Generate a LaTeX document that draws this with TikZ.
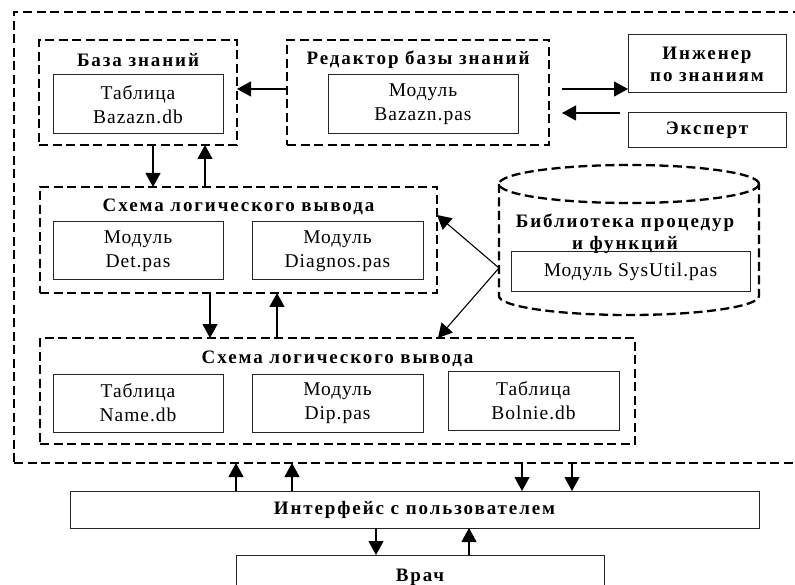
\documentclass[tikz,border=0pt]{standalone}
\usepackage{fontspec}
\setmainfont{Liberation Serif}
\newfontfamily\regf[LetterSpace=5]{Liberation Serif}
\newfontfamily\boldf[LetterSpace=10]{Liberation Serif}
\usetikzlibrary{arrows.meta}
\begin{document}
\begin{tikzpicture}[x=1pt,y=-1pt,
  every node/.style={inner sep=0pt,outer sep=0pt},
  sbox/.style={draw=black!85,line width=1pt,align=center,font=\regf\fontsize{19.5}{24}\selectfont},
  bbox/.style={draw=black!85,line width=1pt,align=center,font=\boldf\bfseries\fontsize{19}{22}\selectfont},
  dbox/.style={draw,line width=2.3pt,dash pattern=on 9pt off 4.5pt},
  dline/.style={line width=2.3pt,dash pattern=on 9pt off 4.5pt},
  ttl/.style={align=center,font=\boldf\bfseries\fontsize{19}{21.5}\selectfont},
  arr/.style={line width=1.1pt,-{Triangle[length=14pt,width=15pt]}}]
\useasboundingbox (0,0) rectangle (795,585);
% outer container
\node[dbox,minimum width=796pt,minimum height=451pt] (outer) at (412,237.5) {};
% knowledge base
\node[dbox,minimum width=198pt,minimum height=105pt] (kb) at (138,92.5) {};
\node[ttl] (kbt) at (138,60) {База знаний};
\node[sbox,minimum width=170pt,minimum height=59pt] (tab1) at (138,104.5) {Таблица\\Bazazn.db};
% editor
\node[dbox,minimum width=262pt,minimum height=105pt] (ed) at (418,92.5) {};
\node[ttl] (edt) at (418,60) {Редактор базы знаний};
\node[sbox,minimum width=190pt,minimum height=59pt] (mod1) at (423,104.5) {Модуль\\Bazazn.pas};
% engineer, expert
\node[bbox,minimum width=158pt,minimum height=58pt] (eng) at (707,64) {Инженер\\по знаниям};
\node[bbox,minimum width=158pt,minimum height=35pt] (exp) at (707,130.5) {Эксперт};
% inference scheme 1
\node[dbox,minimum width=397pt,minimum height=106pt] (s1) at (238.5,240) {};
\node[ttl] (s1t) at (238.5,207) {Схема логического вывода};
\node[sbox,minimum width=170pt,minimum height=58pt] (det) at (138,251) {Модуль\\Det.pas};
\node[sbox,minimum width=171pt,minimum height=58pt] (diag) at (337.5,251) {Модуль\\Diagnos.pas};
% library cylinder
\draw[dline] (629,184) ellipse [x radius=130pt,y radius=19pt];
\draw[dline] (499,184) -- (499,296) arc[start angle=180,end angle=360,x radius=130pt,y radius=19pt] -- (759,184);
\coordinate (cylL) at (499,268);
\node[ttl] (cylt) at (625,234) {Библиотека процедур\\и функций};
\node[sbox,minimum width=239pt,minimum height=40pt] (sysu) at (630.5,272) {Модуль SysUtil.pas};
% inference scheme 2
\node[dbox,minimum width=595pt,minimum height=106pt] (s2) at (337.5,391) {};
\node[ttl] (s2t) at (337.5,359) {Схема логического вывода};
\node[sbox,minimum width=170pt,minimum height=58pt] (name) at (138,403) {Таблица\\Name.db};
\node[sbox,minimum width=171pt,minimum height=58pt] (dip) at (337.5,403) {Модуль\\Dip.pas};
\node[sbox,minimum width=171pt,minimum height=59pt] (bol) at (533.5,400.5) {Таблица\\Bolnie.db};
% interface and doctor
\node[bbox,minimum width=689pt,minimum height=37pt] (iface) at (414.5,509.5) {Интерфейс с пользователем};
\node[bbox,minimum width=368pt,minimum height=45pt] (vrach) at (420,577.5) {Врач};
% connectors
\draw[arr] ([yshift=3.5pt]ed.west) -- ([yshift=3.5pt]kb.east);
\coordinate (c1) at (562,89);
\draw[arr] (c1) -- (c1 -| eng.west);
\coordinate (c2) at (620,113);
\coordinate (c3) at (562,113);
\draw[arr] (c2) -- (c3);
\draw[arr] ([xshift=15pt]kb.south) -- ([xshift=-85.5pt]s1.north);
\draw[arr] ([xshift=-33.5pt]s1.north) -- ([xshift=67pt]kb.south);
\draw[arr] (cylL) -- ([yshift=25pt]s1.east);
\draw[arr] (cylL) -- ([xshift=100.5pt]s2.north);
\draw[arr] ([xshift=-28.5pt]s1.south) -- ([xshift=-127.5pt]s2.north);
\draw[arr] ([xshift=-60.5pt]s2.north) -- ([xshift=38.5pt]s1.south);
\draw[arr] ([xshift=-178.5pt]iface.north) -- ([xshift=-176pt]outer.south);
\draw[arr] ([xshift=-122.5pt]iface.north) -- ([xshift=-120pt]outer.south);
\draw[arr] ([xshift=110pt]outer.south) -- ([xshift=107.5pt]iface.north);
\draw[arr] ([xshift=160pt]outer.south) -- ([xshift=157.5pt]iface.north);
\draw[arr] ([xshift=-38.5pt]iface.south) -- ([xshift=-44pt]vrach.north);
\draw[arr] ([xshift=49pt]vrach.north) -- ([xshift=54.5pt]iface.south);
\end{tikzpicture}
\end{document}
